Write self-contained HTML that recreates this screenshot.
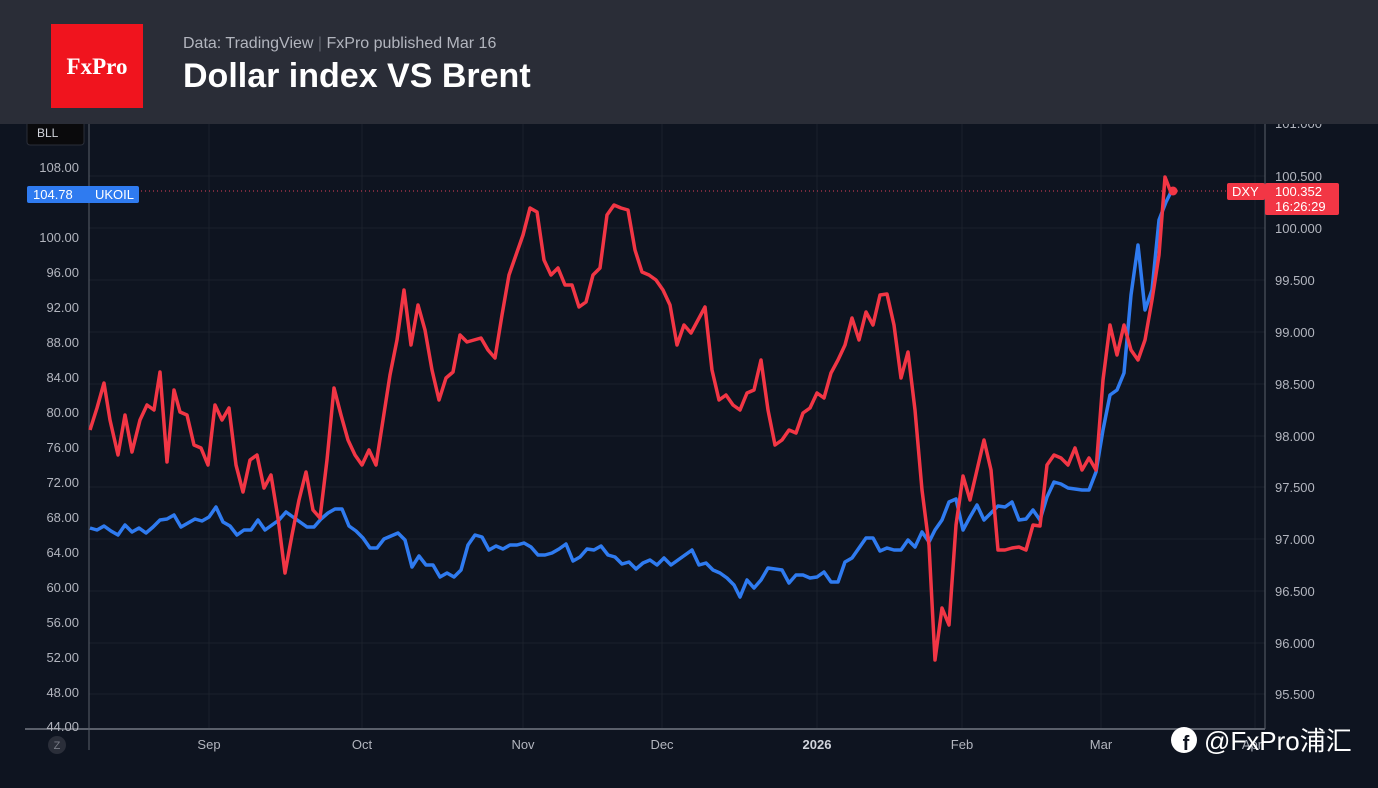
<!DOCTYPE html>
<html><head><meta charset="utf-8"><style>
body{margin:0;width:1378px;height:788px;background:#0e1420;overflow:hidden;font-family:"Liberation Sans",sans-serif}
</style></head><body>
<svg width="1378" height="788" xmlns="http://www.w3.org/2000/svg" style="position:absolute;left:0;top:0">
<rect width="1378" height="788" fill="#0e1420"/>
<g stroke="#1b212c" stroke-width="1">
<line x1="89" y1="176" x2="1265" y2="176"/><line x1="89" y1="228" x2="1265" y2="228"/><line x1="89" y1="280" x2="1265" y2="280"/><line x1="89" y1="332" x2="1265" y2="332"/><line x1="89" y1="384" x2="1265" y2="384"/><line x1="89" y1="436" x2="1265" y2="436"/><line x1="89" y1="487" x2="1265" y2="487"/><line x1="89" y1="539" x2="1265" y2="539"/><line x1="89" y1="591" x2="1265" y2="591"/><line x1="89" y1="643" x2="1265" y2="643"/><line x1="89" y1="694" x2="1265" y2="694"/>
<line x1="209" y1="124" x2="209" y2="729"/><line x1="362" y1="124" x2="362" y2="729"/><line x1="523" y1="124" x2="523" y2="729"/><line x1="662" y1="124" x2="662" y2="729"/><line x1="817" y1="124" x2="817" y2="729"/><line x1="962" y1="124" x2="962" y2="729"/><line x1="1101" y1="124" x2="1101" y2="729"/><line x1="1255" y1="124" x2="1255" y2="729"/>
</g>
<line x1="89" y1="124" x2="89" y2="750" stroke="#5a5f6a"/>
<line x1="1265" y1="124" x2="1265" y2="729" stroke="#5a5f6a"/>
<line x1="25" y1="729" x2="1265" y2="729" stroke="#5a5f6a" stroke-width="2"/>
<line x1="89" y1="191" x2="1265" y2="191" stroke="#e0405a" stroke-dasharray="1 3"/>
<g fill="#b2b5be" font-size="13" text-anchor="end">
<text x="79" y="172">108.00</text><text x="79" y="242">100.00</text><text x="79" y="277">96.00</text><text x="79" y="312">92.00</text><text x="79" y="347">88.00</text><text x="79" y="382">84.00</text><text x="79" y="417">80.00</text><text x="79" y="452">76.00</text><text x="79" y="487">72.00</text><text x="79" y="522">68.00</text><text x="79" y="557">64.00</text><text x="79" y="592">60.00</text><text x="79" y="627">56.00</text><text x="79" y="662">52.00</text><text x="79" y="697">48.00</text><text x="79" y="731">44.00</text>
</g>
<g fill="#b2b5be" font-size="13">
<text x="1275" y="128">101.000</text><text x="1275" y="181">100.500</text><text x="1275" y="233">100.000</text><text x="1275" y="285">99.500</text><text x="1275" y="337">99.000</text><text x="1275" y="389">98.500</text><text x="1275" y="441">98.000</text><text x="1275" y="492">97.500</text><text x="1275" y="544">97.000</text><text x="1275" y="596">96.500</text><text x="1275" y="648">96.000</text><text x="1275" y="699">95.500</text>
</g>
<g fill="#b2b5be" font-size="13" text-anchor="middle">
<text x="209" y="749">Sep</text><text x="362" y="749">Oct</text><text x="523" y="749">Nov</text><text x="662" y="749">Dec</text><text x="817" y="749" font-weight="bold" fill="#d1d4dc">2026</text><text x="962" y="749">Feb</text><text x="1101" y="749">Mar</text><text x="1252" y="749">Apr</text>
</g>
<circle cx="57" cy="745" r="9" fill="#2a2e39"/><text x="57" y="749" fill="#787b86" font-size="11" text-anchor="middle">Z</text>
<rect x="27" y="118" width="57" height="27" rx="3" fill="#0a0a0c" stroke="#2a2e39"/>
<text x="37" y="137" fill="#d1d4dc" font-size="12">BLL</text>
<rect x="27" y="186" width="112" height="17" rx="2" fill="#2f7bf0"/>
<text x="33" y="199" fill="#fff" font-size="13">104.78</text><text x="95" y="199" fill="#fff" font-size="13">UKOIL</text>
<rect x="1227" y="183" width="38" height="17" rx="2" fill="#f23645"/>
<text x="1232" y="196" fill="#fff" font-size="13">DXY</text>
<rect x="1265" y="183" width="74" height="32" rx="2" fill="#f23645"/>
<text x="1275" y="196" fill="#fff" font-size="13">100.352</text><text x="1275" y="211" fill="#fff" font-size="13">16:26:29</text>
<polyline fill="none" stroke="#2f7bf0" stroke-width="3.5" stroke-linejoin="round" points="90,528 97,530 104,526 111,531 118,535 125,525 132,532 139,528 146,533 153,527 160,520 167,519 174,515 181,527 188,523 195,519 202,521 209,517 216,507 223,522 230,526 237,535 244,530 251,530 258,520 265,530 272,525 279,520 286,512 293,517 300,522 307,527 314,527 321,519 328,513 335,509 342,509 349,526 356,531 363,538 370,548 377,548 384,539 391,536 398,533 405,540 412,567 419,556 426,565 433,565 440,577 447,573 454,577 461,570 468,545 475,535 482,537 489,550 496,546 503,549 510,545 517,545 524,543 531,547 538,555 545,555 552,553 559,549 566,544 573,561 580,557 587,549 594,550 601,546 608,555 615,557 622,564 629,562 636,569 643,563 650,560 657,565 664,558 671,565 678,560 685,555 692,550 699,565 706,563 713,570 720,573 727,578 734,585 740,597 747,580 754,588 761,580 768,568 775,569 782,570 789,583 796,575 803,575 810,578 817,577 824,572 831,582 838,582 845,562 852,558 859,548 866,538 873,538 880,551 887,548 894,550 901,550 908,540 915,547 922,532 929,542 935,530 942,520 949,502 956,499 963,530 970,517 977,505 984,520 991,513 998,506 1005,507 1012,502 1019,520 1026,519 1033,510 1040,520 1047,497 1054,482 1061,484 1068,488 1075,489 1082,490 1089,490 1096,472 1103,430 1110,395 1117,390 1124,373 1131,295 1138,245 1145,310 1152,290 1159,220 1166,202 1172,190"/>
<polyline fill="none" stroke="#f23645" stroke-width="3.5" stroke-linejoin="round" points="90,430 97,408 104,383 110,420 118,455 125,415 132,452 140,420 147,405 154,410 160,372 167,462 174,390 180,412 187,415 194,445 201,448 208,465 215,405 222,420 229,408 236,465 243,492 250,460 257,455 264,488 271,475 278,518 285,573 292,535 299,500 306,472 313,510 320,518 327,460 334,388 341,415 348,440 355,455 362,465 369,450 376,465 383,420 390,375 397,340 404,290 411,345 418,305 425,330 432,370 439,400 446,378 453,372 460,335 467,342 474,340 481,338 488,350 495,358 502,315 509,275 516,255 523,235 530,208 537,212 544,260 551,275 558,268 565,285 572,285 579,307 586,302 593,275 600,268 607,215 614,205 621,208 628,210 635,250 642,272 649,275 656,280 663,290 670,305 677,345 684,325 691,333 698,320 705,307 712,370 719,400 726,395 733,405 740,410 747,393 754,390 761,360 768,410 775,445 782,440 789,430 796,433 803,413 810,408 817,393 824,398 831,373 838,360 845,345 852,318 859,340 866,312 873,325 880,295 887,294 894,325 901,378 908,352 915,410 922,490 929,545 935,660 942,608 949,625 956,525 963,476 970,500 977,470 984,440 991,470 998,550 1005,550 1012,548 1019,547 1026,550 1033,525 1040,526 1047,465 1054,455 1061,458 1068,465 1075,448 1082,470 1089,458 1096,470 1103,380 1110,325 1117,355 1124,325 1131,350 1138,360 1145,340 1152,300 1159,255 1165,177 1170,190 1174,190"/>
<circle cx="1173" cy="191" r="4.5" fill="#f23645"/>
<rect x="0" y="0" width="1378" height="124" fill="#2a2d37"/>
<rect x="51" y="24" width="92" height="84" fill="#f0141e"/>
<text x="97" y="74" fill="#fff" font-size="23" font-weight="bold" font-family="Liberation Serif,serif" text-anchor="middle">FxPro</text>
<text x="183" y="48" fill="#b2b5be" font-size="16">Data: TradingView <tspan fill="#5d606b">|</tspan> FxPro published Mar 16</text>
<text x="183" y="87" fill="#fff" font-size="34" font-weight="bold">Dollar index VS Brent</text>
<circle cx="1184" cy="740" r="13" fill="#fff"/>
<text x="1186" y="750" fill="#0e1420" font-size="20" font-weight="bold" text-anchor="middle">f</text>
<text x="1204" y="750" fill="#fff" font-size="26" font-family="Liberation Sans,Noto Sans CJK SC,sans-serif">@FxPro浦汇</text>
</svg>
</body></html>
